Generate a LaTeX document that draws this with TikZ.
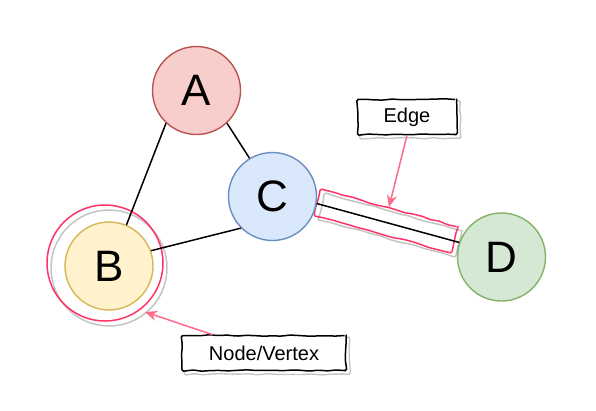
\documentclass[tikz,border=0pt]{standalone}
\usepackage{fontspec}
\setmainfont{Liberation Sans}
\usetikzlibrary{arrows.meta,backgrounds,decorations.pathmorphing}
\definecolor{redfill}{HTML}{F8CECC}
\definecolor{redline}{HTML}{B85450}
\definecolor{yellowfill}{HTML}{FFF2CC}
\definecolor{yellowline}{HTML}{D6B656}
\definecolor{bluefill}{HTML}{DAE8FC}
\definecolor{blueline}{HTML}{6C8EBF}
\definecolor{greenfill}{HTML}{D5E8D4}
\definecolor{greenline}{HTML}{82B366}
\definecolor{marker}{HTML}{FF3366}
\definecolor{pointer}{HTML}{FF6B8B}
\definecolor{sketchgray}{HTML}{C4C4C4}
\tikzset{
  vertex/.style={%
    circle, draw=#1line, fill=#1fill, line width=1.4pt,
    minimum size=88pt, inner sep=0pt,
    font=\fontsize{44}{48}\selectfont
  },
  link/.style={black, line width=1.5pt},
  sketchy/.style={%
    decorate,
    decoration={random steps, segment length=9pt, amplitude=0.7pt},
    rounded corners=1.5pt
  },
  ring/.style={circle, draw=#1, line width=1.5pt, inner sep=0pt, minimum size=116pt},
  markbox/.style={draw=#1, line width=1.5pt, sketchy, inner sep=0pt},
  tagbox/.style={draw=black, fill=white, line width=1.5pt, sketchy,
    font=\fontsize{20}{24}\selectfont},
  tagshadow/.style={draw=sketchgray, line width=1.4pt, sketchy},
  pointto/.style={draw=pointer, line width=1.5pt, -{Stealth[length=12pt,width=10pt]}}
}
\pgfmathsetseed{7}
\begin{document}
\begin{tikzpicture}[x=1pt,y=-1pt]
\useasboundingbox (0,0) rectangle (596,410);
% highlight rings behind everything
\node[ring=sketchgray] (Bshade) at (109,268) {};
\node[ring=marker] (Bring) at (105,263) {};
\node[markbox=sketchgray, rotate=-15.5, minimum width=142pt, minimum height=27pt] (edgeshade) at (390,225) {};
\node[markbox=marker, rotate=-15.5, minimum width=142pt, minimum height=27pt] (edgering) at (386,221) {};
% the graph
\node[vertex=red] (A) at (196.5,90.5) {A};
\node[vertex=blue] (C) at (272.5,196.5) {C};
\node[vertex=yellow] (B) at (109,266) {B};
\node[vertex=green] (D) at (501.5,257) {D};
\draw[link] (A.227) -- (B.67);
\draw[link] (A.313) -- (C.121);
\draw[link] (B.20) -- (C.225);
\draw[link] (C.351) -- (D.161);
% labels
\node[tagbox, minimum width=99pt, minimum height=35pt] (edgetag) at (407,117) {Edge};
\node[tagbox, minimum width=164pt, minimum height=35pt] (vertextag) at (264,353) {Node/Vertex};
\begin{scope}[on background layer]
\draw[tagshadow] ([shift={(3,3)}]edgetag.north west) rectangle ([shift={(3,3)}]edgetag.south east);
\draw[tagshadow] ([shift={(3,3)}]vertextag.north west) rectangle ([shift={(3,3)}]vertextag.south east);
\end{scope}
\coordinate (edgetip) at (389,207);
\coordinate (vertextip) at (145,312);
\draw[pointto] (edgetag.south) -- (edgetip);
\draw[pointto] ([xshift=-51pt]vertextag.north) -- (vertextip);
\end{tikzpicture}
\end{document}
